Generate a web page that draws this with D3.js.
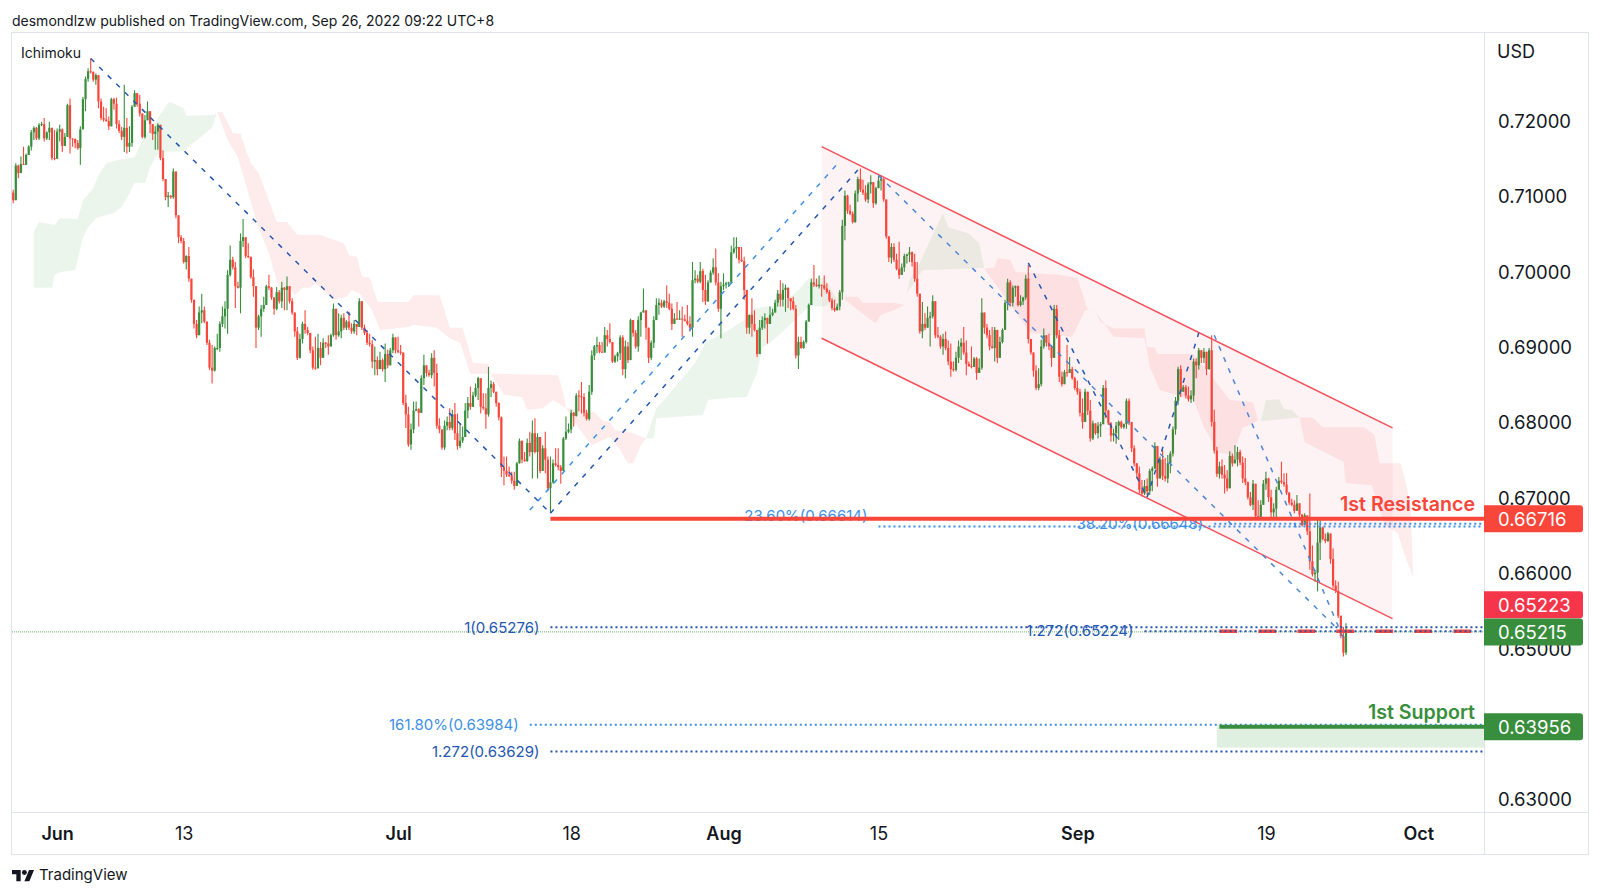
<!DOCTYPE html>
<html>
<head>
<meta charset="utf-8">
<script src="https://cdn.jsdelivr.net/npm/d3@7"></script>
<style>
  html, body { margin: 0; padding: 0; background: #fff; }
  svg { display: block; }
  text { font-family: Inter, "Noto Sans", sans-serif; fill: #131722; }
</style>
</head>
<body>
<div id="chart"></div>
<script>
// 4h candles, quotes in pips (7094 = 0.7094), open of a bar is the previous close
const firstOpen = 7104;
const closes = [
  7094,7140,7130,7142,7141,7154,7165,7184,7190,7176,
  7194,7195,7176,7184,7190,7150,7149,7185,7188,7166,
  7178,7220,7176,7175,7170,7163,7188,7228,7255,7265,
  7264,7254,7260,7225,7203,7201,7199,7192,7228,7222,
  7195,7186,7178,7190,7165,7170,7218,7236,7222,7209,
  7178,7200,7212,7195,7182,7185,7194,7150,7122,7098,
  7100,7098,7132,7074,7045,7040,7012,7020,6990,6962,
  6930,6915,6945,6948,6933,6905,6872,6868,6898,6898,
  6930,6940,6950,6995,7015,7005,6980,6978,7040,7045,
  7020,7019,6992,6980,6925,6940,6950,6955,6980,6978,
  6965,6950,6972,6960,6978,6975,6980,6960,6945,6920,
  6885,6910,6930,6922,6918,6895,6872,6871,6898,6885,
  6905,6904,6900,6915,6950,6915,6920,6938,6925,6933,
  6925,6920,6930,6926,6960,6925,6918,6905,6903,6880,
  6882,6870,6882,6870,6890,6875,6895,6912,6895,6893,
  6892,6825,6810,6770,6790,6815,6817,6812,6858,6875,
  6865,6862,6885,6865,6795,6790,6766,6795,6800,6792,
  6810,6785,6768,6775,6780,6815,6825,6820,6835,6845,
  6858,6820,6818,6810,6845,6850,6840,6825,6806,6740,
  6735,6730,6728,6722,6715,6745,6775,6750,6748,6772,
  6760,6785,6760,6780,6735,6765,6750,6712,6720,6745,
  6743,6740,6735,6778,6787,6790,6812,6808,6835,6834,
  6833,6812,6804,6840,6888,6900,6902,6893,6892,6915,
  6910,6906,6880,6887,6891,6912,6870,6900,6882,6935,
  6918,6900,6935,6945,6948,6925,6885,6905,6935,6955,
  6958,6953,6960,6958,6950,6930,6937,6936,6937,6936,
  6934,6930,6925,6988,6990,6986,7000,6975,6960,6985,
  6998,7005,6985,6950,6980,6982,6984,6985,7025,7030,
  7032,7015,7013,6975,6925,6942,6930,6922,6890,6925,
  6935,6938,6930,6942,6945,6958,6970,6962,6975,6978,
  6964,6960,6950,6888,6906,6898,6906,6933,6955,6985,
  6982,6980,6982,6981,6977,6972,6961,6951,6948,6953,
  6972,7060,7100,7080,7076,7065,7103,7122,7108,7104,
  7095,7115,7118,7090,7110,7120,7122,7095,7046,7018,
  7032,7015,7003,6995,7005,7020,7022,7025,7012,6990,
  6970,6920,6930,6925,6938,6940,6960,6915,6913,6900,
  6910,6898,6880,6870,6869,6885,6900,6905,6892,6877,
  6874,6873,6884,6865,6872,6945,6925,6915,6900,6898,
  6922,6885,6906,6922,6958,6985,6958,6978,6980,6955,
  6960,6965,6990,6910,6892,6868,6845,6850,6900,6915,
  6905,6900,6885,6950,6915,6860,6850,6866,6865,6870,
  6858,6845,6840,6812,6800,6840,6815,6778,6798,6785,
  6795,6797,6845,6815,6798,6782,6785,6795,6800,6793,
  6797,6828,6800,6765,6745,6732,6710,6705,6715,6708,
  6735,6738,6768,6725,6750,6728,6725,6745,6758,6790,
  6828,6870,6840,6846,6835,6830,6835,6880,6875,6895,
  6885,6893,6870,6895,6800,6762,6731,6741,6730,6725,
  6712,6755,6745,6750,6760,6746,6725,6720,6700,6690,
  6718,6675,6674,6690,6718,6725,6700,6680,6685,6710,
  6722,6720,6717,6706,6693,6690,6682,6692,6677,6663,
  6676,6655,6615,6598,6600,6640,6660,6645,6642,6652,
  6618,6583,6576,6543,6516,6494,6522
];
const highs = [
  7108,7143,7141,7152,7165,7156,7167,7187,7192,7191,
  7196,7198,7203,7185,7198,7190,7187,7189,7194,7189,
  7183,7222,7229,7176,7176,7174,7192,7231,7258,7269,
  7282,7265,7262,7260,7229,7218,7216,7205,7230,7230,
  7230,7200,7191,7247,7203,7192,7220,7240,7234,7234,
  7207,7207,7225,7207,7194,7192,7196,7194,7160,7121,
  7105,7101,7136,7132,7072,7048,7044,7021,7032,6988,
  6962,6935,6953,6970,6953,6933,6909,6902,6900,6917,
  6933,6953,6960,7001,7034,7019,7012,6986,7050,7069,
  7044,7037,7019,7002,6979,6942,6955,6966,6982,6995,
  6979,6964,6979,6975,6986,6979,6993,6979,6964,6944,
  6926,6917,6933,6948,6926,6913,6900,6913,6917,6906,
  6911,6906,6915,6917,6957,6948,6944,6942,6944,6935,
  6946,6931,6935,6928,6964,6960,6929,6922,6917,6909,
  6900,6887,6893,6884,6904,6896,6898,6917,6911,6913,
  6902,6891,6836,6820,6798,6827,6827,6818,6862,6889,
  6875,6869,6891,6895,6877,6805,6789,6802,6807,6818,
  6816,6825,6811,6798,6794,6825,6833,6847,6840,6851,
  6860,6858,6838,6838,6873,6855,6853,6840,6826,6807,
  6754,6754,6741,6734,6734,6747,6778,6774,6760,6778,
  6787,6802,6805,6785,6758,6769,6787,6754,6754,6750,
  6765,6765,6743,6780,6807,6798,6816,6813,6838,6842,
  6853,6838,6816,6849,6895,6902,6913,6906,6906,6926,
  6922,6931,6906,6889,6893,6915,6915,6908,6906,6937,
  6931,6922,6940,6946,6977,6946,6917,6908,6940,6964,
  6964,6962,6962,6981,6970,6957,6944,6959,6948,6953,
  6942,6955,6940,7012,7001,6995,7012,7003,6995,6988,
  7001,7017,7030,6997,6986,6997,6986,6986,7034,7045,
  7045,7032,7032,7019,6975,6942,6964,6948,6920,6935,
  6940,6944,6937,6953,6950,6962,6975,6988,6984,6982,
  6970,6964,6966,6955,6913,6913,6908,6935,6957,6990,
  7008,6990,6994,6981,6994,6984,6975,6964,6962,6957,
  6975,7068,7107,7101,7088,7079,7107,7125,7136,7121,
  7114,7118,7127,7118,7112,7127,7127,7123,7094,7046,
  7037,7037,7023,7039,7010,7023,7023,7032,7026,7023,
  7012,6970,6959,6944,6953,6946,6968,6957,6926,6915,
  6917,6920,6908,6904,6880,6893,6908,6911,6926,6908,
  6880,6900,6886,6886,6884,6964,6944,6930,6922,6926,
  6926,6913,6913,6924,6962,6990,6988,6981,6981,6981,
  6968,6966,6995,7008,6906,6886,6875,6871,6909,6924,
  6913,6917,6902,6955,6955,6922,6867,6869,6902,6886,
  6873,6860,6855,6844,6831,6844,6829,6829,6802,6793,
  6800,6800,6849,6855,6816,6800,6791,6800,6802,6802,
  6798,6831,6831,6800,6769,6741,6741,6723,6723,6725,
  6738,6741,6773,6767,6754,6763,6752,6756,6761,6794,
  6833,6873,6875,6849,6849,6847,6842,6884,6884,6898,
  6895,6898,6891,6898,6915,6816,6767,6747,6750,6743,
  6736,6761,6758,6769,6767,6763,6754,6752,6721,6707,
  6723,6696,6696,6696,6723,6734,6726,6710,6692,6714,
  6727,6747,6732,6732,6707,6698,6696,6703,6690,6678,
  6679,6672,6705,6636,6604,6670,6670,6661,6652,6654,
  6652,6632,6590,6588,6540,6528,6533
];
const lows = [
  7090,7094,7123,7141,7141,7141,7154,7160,7174,7174,
  7174,7192,7172,7174,7174,7147,7147,7172,7172,7158,
  7170,7180,7156,7165,7163,7161,7141,7190,7212,7251,
  7262,7251,7247,7216,7200,7198,7198,7187,7207,7214,
  7189,7183,7174,7158,7156,7158,7165,7218,7218,7205,
  7176,7176,7200,7183,7174,7161,7161,7147,7119,7094,
  7085,7096,7096,7070,7037,7037,7010,7002,6986,6958,
  6924,6911,6920,6931,6931,6902,6869,6851,6867,6895,
  6893,6926,6924,6917,6993,7002,6951,6977,6944,7032,
  7017,7017,6990,6966,6898,6922,6913,6946,6958,6975,
  6962,6942,6948,6957,6951,6948,6948,6957,6942,6913,
  6882,6884,6904,6917,6915,6891,6869,6869,6880,6875,
  6891,6898,6889,6900,6913,6909,6913,6911,6922,6922,
  6922,6917,6917,6915,6926,6922,6915,6902,6900,6871,
  6862,6862,6875,6867,6853,6871,6880,6891,6891,6891,
  6889,6822,6792,6767,6763,6785,6814,6794,6816,6849,
  6860,6860,6858,6847,6791,6785,6763,6763,6789,6789,
  6789,6776,6763,6765,6772,6785,6805,6816,6825,6833,
  6829,6811,6816,6791,6807,6833,6838,6820,6802,6727,
  6716,6727,6727,6718,6710,6718,6745,6745,6747,6747,
  6754,6725,6758,6725,6732,6736,6732,6708,6679,6718,
  6741,6736,6718,6736,6776,6785,6785,6794,6807,6814,
  6811,6807,6802,6802,6836,6882,6891,6891,6892,6900,
  6900,6904,6878,6878,6880,6882,6862,6858,6878,6895,
  6913,6897,6893,6913,6946,6909,6878,6882,6898,6935,
  6942,6951,6951,6951,6948,6922,6935,6935,6935,6913,
  6933,6928,6920,6913,6984,6984,6984,6959,6955,6959,
  6986,6995,6981,6946,6911,6975,6977,6979,6984,7023,
  7017,7010,7012,6962,6917,6917,6913,6920,6886,6893,
  6922,6924,6904,6937,6940,6946,6953,6953,6953,6946,
  6951,6948,6948,6884,6870,6897,6897,6904,6933,6955,
  6979,6979,6977,6966,6975,6970,6959,6948,6946,6948,
  6948,6962,7041,7076,7074,7063,7064,7092,7105,7101,
  7092,7090,7103,7084,7088,7110,7107,7092,7043,7012,
  7010,7012,7001,6990,7001,6999,7010,7012,7006,6986,
  6966,6917,6911,6922,6926,6900,6937,6911,6911,6897,
  6889,6895,6875,6860,6867,6867,6878,6882,6889,6862,
  6873,6871,6873,6856,6869,6869,6917,6911,6895,6897,
  6880,6878,6885,6904,6922,6948,6953,6953,6966,6953,
  6953,6955,6962,6904,6889,6860,6842,6842,6847,6897,
  6900,6895,6873,6886,6911,6853,6847,6851,6860,6869,
  6856,6842,6836,6807,6791,6807,6809,6774,6776,6783,
  6778,6780,6802,6805,6796,6774,6774,6771,6776,6791,
  6791,6791,6796,6760,6741,6725,6705,6701,6703,6703,
  6703,6708,6738,6714,6741,6723,6721,6719,6732,6754,
  6783,6822,6833,6842,6831,6827,6825,6827,6858,6869,
  6878,6878,6862,6869,6794,6758,6727,6725,6725,6705,
  6708,6723,6741,6745,6741,6743,6719,6716,6697,6688,
  6683,6672,6673,6672,6694,6710,6694,6674,6674,6674,
  6712,6718,6714,6703,6690,6688,6679,6688,6674,6661,
  6663,6650,6604,6595,6588,6575,6617,6643,6639,6641,
  6612,6579,6573,6540,6513,6489,6491
];

// Ichimoku cloud outlines as [bar, pips]
const kumoGreen = [
  [[8,7052],[10,7065],[16,7061],[18,7070],[25,7069],[27,7094],[31,7110],[33,7127],[36,7143],[40,7147],[47,7151],[50,7174],[60,7223],[61,7224],[66,7216],[67,7206],[78,7207],[79,7211],
   [77,7190],[70,7171],[66,7159],[57,7158],[56,7156],[53,7138],[51,7117],[47,7117],[45,7103],[42,7085],[39,7077],[32,7070],[29,7058],[27,7045],[24,7001],[19,6999],[16,6995],[15,6978],[8,6978]],
  [[245,6778],[249,6818],[253,6833],[259,6858],[264,6878],[268,6905],[277,6922],[283,6935],[287,6951],[297,6955],[304,6975],[308,6991],[314,6991],[319,6962],[322,6966],
   [314,6953],[308,6953],[298,6920],[293,6905],[290,6898],[288,6865],[284,6833],[277,6832],[269,6829],[267,6809],[249,6805],[248,6778]],
  [[345,6955],[347,6988],[351,7011],[355,7041],[359,7070],[360,7077],[362,7058],[370,7050],[374,7037],[376,7004],[352,7001],[346,6971]],
  [[483,6801],[485,6829],[490,6830],[492,6817],[495,6816],[498,6806]]
];
const kumoRed = [
  [[79,7211],[81,7211],[85,7183],[88,7182],[90,7161],[92,7143],[95,7130],[99,7094],[102,7065],[106,7065],[110,7048],[119,7048],[122,7044],[128,7037],[130,7021],[133,7019],[135,6993],[138,6992],[141,6959],[153,6959],[155,6968],[165,6968],[167,6948],[169,6925],[174,6925],[178,6878],[184,6877],[185,6864],[211,6862],[213,6838],[214,6818],[225,6813],[228,6802],[231,6800],[233,6789],[239,6786],[245,6778],
   [243,6769],[240,6745],[238,6745],[235,6763],[231,6780],[224,6769],[219,6792],[214,6818],[209,6829],[205,6818],[199,6816],[197,6833],[190,6836],[185,6864],[177,6864],[173,6905],[169,6911],[164,6925],[155,6929],[153,6926],[142,6922],[139,6948],[134,6971],[131,6975],[129,6966],[124,6962],[117,6984],[115,6978],[112,6978],[109,6968],[107,6979],[103,6978],[102,6988],[99,7024],[95,7057],[91,7104],[87,7151],[83,7174]],
  [[322,6966],[327,6966],[329,6958],[341,6958],[345,6955],[341,6948],[336,6942],[334,6931],[332,6935],[322,6962]],
  [[376,7003],[380,7005],[381,7017],[386,7015],[388,6999],[405,6995],[412,6991],[416,6948],[419,6946],[421,6932],[426,6924],[438,6924],[439,6899],[442,6899],[443,6890],[457,6890],[465,6856],[471,6829],[480,6826],[482,6802],
   [476,6792],[472,6756],[467,6759],[465,6769],[461,6793],[457,6829],[448,6838],[444,6842],[440,6873],[438,6911],[426,6913],[419,6946],[415,6948],[410,6913],[394,6918],[388,6946]],
  [[498,6806],[503,6806],[507,6793],[523,6793],[527,6783],[529,6745],[537,6745],[539,6723],[541,6687],[542,6594],
   [539,6621],[536,6653],[531,6663],[526,6716],[516,6719],[515,6747],[500,6773]]
];

// descending channel
const channelBars = [313, 534];
const channelUpper = [7165, 6792];
const channelLower = [6911, 6539];

// swing drawings as bar / pips pairs
const swingStartBars = [30, 200, 208, 335, 393, 439, 465];
const swingStartPips = [7282, 6683, 6679, 7127, 7011, 6700, 6915];
const swingEndBars = [208, 319, 327, 514, 439, 459, 515];
const swingEndPips = [6679, 7142, 7134, 6521, 6700, 6918, 6513];
const swingKinds = ['dark', 'light', 'dark', 'mid', 'dark', 'dark', 'mid'];

// fib levels
const fibTexts = ['23.60%(0.66614)', '38.20%(0.66648)', '1(0.65276)', '1.272(0.65224)', '161.80%(0.63984)', '1.272(0.63629)'];
const fibValues = [6661.4, 6664.8, 6527.6, 6522.4, 6398.4, 6362.9];
const fibStarts = [335, 465, 208, 438, 200, 208];
const fibKinds = ['light', 'light', 'dark', 'dark', 'light', 'dark'];

const priceTicks = [7200, 7100, 7000, 6900, 6800, 6700, 6600, 6500, 6300];
const timeLabels = ['Jun', '13', 'Jul', '18', 'Aug', '15', 'Sep', '19', 'Oct'];
const timeBars = [17, 66, 149, 216, 275, 335, 412, 485, 544];
const boldTimes = ['Jun', 'Jul', 'Aug', 'Sep', 'Oct'];

const tagValues = [6671.6, 6522.3, 6521.5, 6395.6];
const tagTexts = ['0.66716', '0.65223', '0.65215', '0.63956'];
const tagShift = [0, -26.5, 0, 0];

const resistance = 6671.6;
const resistanceFrom = 208;
const support = 6395.6;
const supportFrom = 467;
const supportZone = [6398, 6368];
const supportZoneFrom = 466;
const lastClose = 6522.3;
const lastCloseFrom = 467;
const lastQuote = 6521.5;

const width = 1600, height = 896;
const plotLeft = 12, plotRight = 1484, plotTop = 33, plotBottom = 812;
const RED = '#f9463a', GREEN = '#388e3c';
const BLUES = { dark: '#2456b0', mid: '#4a86d6', light: '#3d90e6' };

const x = d3.scaleLinear().domain([0, 516]).range([13.2, 1346]);
const y = d3.scaleLinear().domain([6200, 7300]).range([874.3, 44.9]);

const svg = d3.select('#chart').append('svg').attr('width', width).attr('height', height);

svg.append('defs').append('clipPath').attr('id', 'plot')
  .append('rect').attr('x', plotLeft).attr('y', plotTop)
  .attr('width', plotRight - plotLeft).attr('height', plotBottom - plotTop);

// frame
const frame = svg.append('g').attr('fill', 'none').attr('stroke', '#e0e3eb');
frame.append('rect').attr('x', 11.5).attr('y', 32.5).attr('width', 1577).attr('height', 822);
frame.append('line').attr('x1', 11.5).attr('x2', 1588.5).attr('y1', 812.5).attr('y2', 812.5);
frame.append('line').attr('x1', plotRight + 0.5).attr('x2', plotRight + 0.5).attr('y1', 32.5).attr('y2', 854.5);

const plot = svg.append('g').attr('clip-path', 'url(#plot)');

// cloud
const outline = d3.line().x(d => x(d[0])).y(d => y(d[1]));
plot.selectAll('.kumo-g').data(kumoGreen).enter().append('path')
  .attr('d', d => outline(d) + 'Z').attr('fill', 'rgba(67,160,71,0.1)');
plot.selectAll('.kumo-r').data(kumoRed).enter().append('path')
  .attr('d', d => outline(d) + 'Z').attr('fill', 'rgba(242,54,69,0.1)');

// candles
const candles = plot.append('g');
closes.forEach((c, i) => {
  const o = i === 0 ? firstOpen : closes[i - 1];
  const color = c >= o ? GREEN : RED;
  candles.append('line')
    .attr('x1', x(i)).attr('x2', x(i))
    .attr('y1', y(Math.max(highs[i], o, c))).attr('y2', y(Math.min(lows[i], o, c)))
    .attr('stroke', color).attr('stroke-width', 1.1);
  candles.append('rect')
    .attr('x', x(i) - 1.1).attr('width', 2.2)
    .attr('y', y(Math.max(o, c))).attr('height', Math.max(1, y(Math.min(o, c)) - y(Math.max(o, c))))
    .attr('fill', color);
});

// channel
const channelTop = channelBars.map((b, i) => [b, channelUpper[i]]);
const channelBottom = channelBars.map((b, i) => [b, channelLower[i]]);
plot.append('path')
  .attr('d', outline(channelTop.concat(channelBottom.slice().reverse())) + 'Z')
  .attr('fill', 'rgba(242,54,69,0.06)');
[channelTop, channelBottom].forEach(edge => {
  plot.append('path').attr('d', outline(edge)).attr('fill', 'none')
    .attr('stroke', '#f5505a').attr('stroke-width', 1.5);
});

// swings
swingStartBars.forEach((b, i) => {
  plot.append('line')
    .attr('x1', x(b)).attr('y1', y(swingStartPips[i]))
    .attr('x2', x(swingEndBars[i])).attr('y2', y(swingEndPips[i]))
    .attr('stroke', BLUES[swingKinds[i]]).attr('stroke-width', 1.5)
    .attr('stroke-dasharray', '5 7');
});

// support zone
plot.append('rect')
  .attr('x', x(supportZoneFrom)).attr('width', plotRight - x(supportZoneFrom))
  .attr('y', y(supportZone[0])).attr('height', y(supportZone[1]) - y(supportZone[0]))
  .attr('fill', '#dfefe0');

// last quote line
plot.append('line')
  .attr('x1', plotLeft).attr('x2', plotRight).attr('y1', y(lastQuote)).attr('y2', y(lastQuote))
  .attr('stroke', '#43a047').attr('stroke-width', 1).attr('stroke-dasharray', '1 1').attr('opacity', 0.8);

plot.append('line')
  .attr('x1', x(lastCloseFrom)).attr('x2', plotRight).attr('y1', y(lastClose)).attr('y2', y(lastClose))
  .attr('stroke', RED).attr('stroke-width', 3.5).attr('stroke-dasharray', '17.7 21.3');

// fib levels
fibTexts.forEach((t, i) => {
  const c = BLUES[fibKinds[i]];
  plot.append('line')
    .attr('x1', x(fibStarts[i])).attr('x2', plotRight - 1)
    .attr('y1', y(fibValues[i])).attr('y2', y(fibValues[i]))
    .attr('stroke', c).attr('stroke-width', 2).attr('stroke-dasharray', '2 3');
  plot.append('text')
    .attr('x', x(fibStarts[i]) - 11)
    .attr('y', y(fibValues[i]) - (i === 0 ? 11 : 0))
    .attr('dy', '0.35em').attr('text-anchor', 'end')
    .attr('font-size', 15)
    .style('fill', c)
    .text(t);
});

// key levels
plot.append('line')
  .attr('x1', x(resistanceFrom)).attr('x2', plotRight).attr('y1', y(resistance)).attr('y2', y(resistance))
  .attr('stroke', RED).attr('stroke-width', 4);
plot.append('line')
  .attr('x1', x(supportFrom)).attr('x2', plotRight).attr('y1', y(support)).attr('y2', y(support))
  .attr('stroke', GREEN).attr('stroke-width', 4);

svg.append('text').attr('x', 1475).attr('y', 504).attr('dy', '0.35em').attr('text-anchor', 'end')
  .attr('font-size', 19.6).attr('font-weight', 600).style('fill', RED).text('1st Resistance');
svg.append('text').attr('x', 1475).attr('y', 712).attr('dy', '0.35em').attr('text-anchor', 'end')
  .attr('font-size', 19.6).attr('font-weight', 600).style('fill', GREEN).text('1st Support');

// axes
const yAxis = d3.axisRight(y).tickValues(priceTicks).tickSize(0).tickPadding(0)
  .tickFormat(d => (d / 10000).toFixed(5));
const yG = svg.append('g').attr('transform', 'translate(1498,0)').call(yAxis);
yG.select('.domain').remove();
yG.selectAll('text').attr('font-size', 18.5).attr('font-family', null).attr('dy', '0.38em');

const xAxis = d3.axisBottom(x).tickValues(timeBars).tickSize(0).tickPadding(0)
  .tickFormat((d, i) => timeLabels[i]);
const xG = svg.append('g').attr('transform', 'translate(0,827)').call(xAxis);
xG.select('.domain').remove();
xG.selectAll('text').attr('font-size', 18).attr('font-family', null)
  .attr('font-weight', (d, i) => boldTimes.includes(timeLabels[i]) ? 600 : 400);

svg.append('text').attr('x', 1497).attr('y', 52).attr('dy', '0.35em').attr('font-size', 18).text('USD');

// price tags
tagTexts.forEach((t, i) => {
  const cy = y(tagValues[i]) + tagShift[i];
  const fill = i === 0 ? RED : i === 1 ? '#f5364a' : GREEN;
  svg.append('path')
    .attr('d', `M1484,${cy - 13.5}H1580a3,3 0 0 1 3,3V${cy + 10.5}a3,3 0 0 1 -3,3H1484Z`)
    .attr('fill', fill);
  svg.append('text').attr('x', 1498).attr('y', cy).attr('dy', '0.38em')
    .attr('font-size', 18.5).style('fill', '#fff').text(t);
});

// header and footer
svg.append('text').attr('x', 12).attr('y', 21).attr('dy', '0.35em').attr('font-size', 14)
  .text('desmondlzw published on TradingView.com, Sep 26, 2022 09:22 UTC+8');
svg.append('text').attr('x', 21).attr('y', 53).attr('dy', '0.35em').attr('font-size', 14).text('Ichimoku');
const logo = svg.append('g').attr('transform', 'translate(12,867.5) scale(0.62)').attr('fill', '#131722');
logo.append('path').attr('d', 'M14 22H7V11H0V4h14v18zM28 22h-8l7.5-18h8L28 22z');
logo.append('circle').attr('cx', 20).attr('cy', 8).attr('r', 4);
svg.append('text').attr('x', 39).attr('y', 875).attr('dy', '0.35em').attr('font-size', 15).text('TradingView');

if (closes.length !== highs.length || closes.length !== lows.length) {
  throw new Error('length mismatch ' + closes.length + ' ' + highs.length + ' ' + lows.length);
}
</script>
</body>
</html>
